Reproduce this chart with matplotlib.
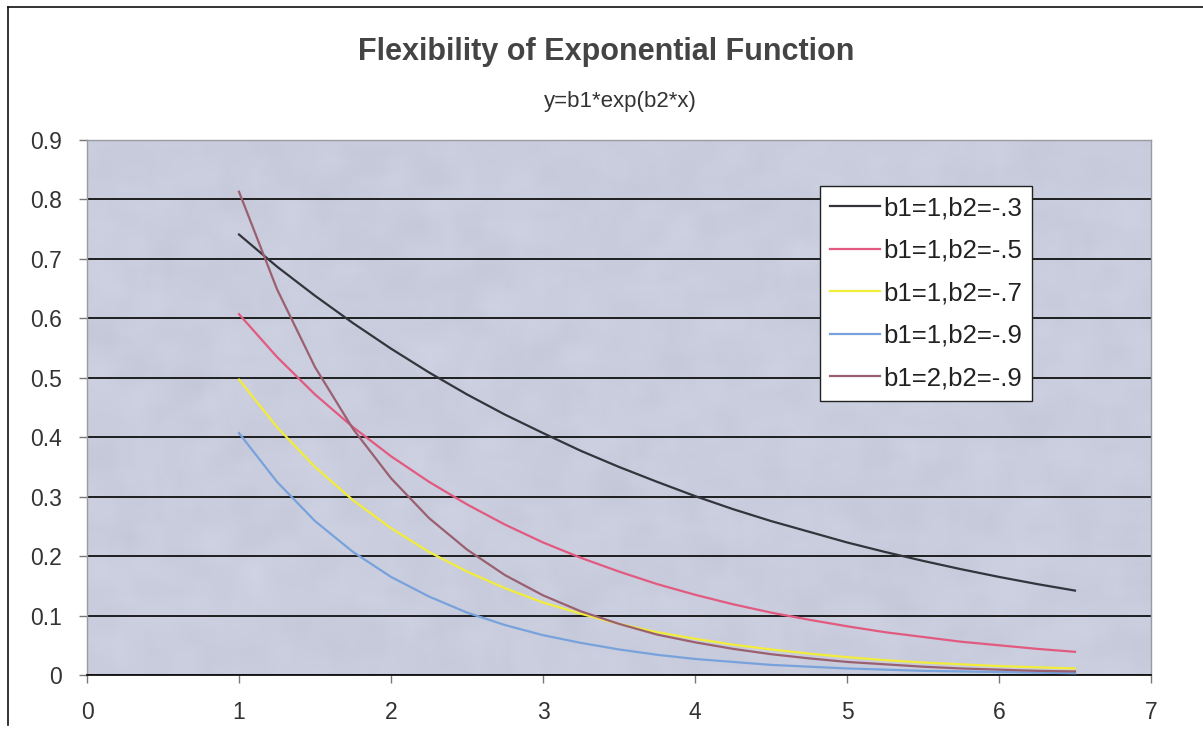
import matplotlib
matplotlib.use("Agg")
import matplotlib.pyplot as plt
from matplotlib.lines import Line2D
import numpy as np

plt.rcParams['font.family'] = ['Liberation Sans', 'DejaVu Sans']

# sample positions along x
x = [1.0, 1.25, 1.5, 1.75, 2.0, 2.25, 2.5, 2.75, 3.0, 3.25, 3.5, 3.75,
     4.0, 4.25, 4.5, 4.75, 5.0, 5.25, 5.5, 5.75, 6.0, 6.25, 6.5]

y_b1_1_b2_03 = [0.741, 0.687, 0.638, 0.592, 0.549, 0.509, 0.472, 0.438, 0.407, 0.377,
                0.350, 0.325, 0.301, 0.279, 0.259, 0.241, 0.223, 0.207, 0.192, 0.178,
                0.165, 0.153, 0.142]
y_b1_1_b2_05 = [0.607, 0.535, 0.472, 0.417, 0.368, 0.325, 0.287, 0.253, 0.223, 0.197,
                0.174, 0.153, 0.135, 0.119, 0.105, 0.093, 0.082, 0.072, 0.064, 0.056,
                0.050, 0.044, 0.039]
y_b1_1_b2_07 = [0.497, 0.417, 0.350, 0.294, 0.247, 0.207, 0.174, 0.146, 0.122, 0.103,
                0.086, 0.072, 0.061, 0.051, 0.043, 0.036, 0.030, 0.025, 0.021, 0.018,
                0.015, 0.013, 0.011]
y_b1_1_b2_09 = [0.407, 0.325, 0.259, 0.207, 0.165, 0.132, 0.105, 0.084, 0.067, 0.054,
                0.043, 0.034, 0.027, 0.022, 0.017, 0.014, 0.011, 0.009, 0.007, 0.006,
                0.005, 0.004, 0.003]
y_b1_2_b2_09 = [0.813, 0.649, 0.518, 0.414, 0.331, 0.264, 0.211, 0.168, 0.134, 0.107,
                0.086, 0.068, 0.055, 0.044, 0.035, 0.028, 0.022, 0.018, 0.014, 0.011,
                0.009, 0.007, 0.006]

series_labels = ["b1=1,b2=-.3", "b1=1,b2=-.5", "b1=1,b2=-.7", "b1=1,b2=-.9", "b1=2,b2=-.9"]
series_values = [y_b1_1_b2_03, y_b1_1_b2_05, y_b1_1_b2_07, y_b1_1_b2_09, y_b1_2_b2_09]
series_colors = ["#33343c", "#e25a80", "#f2ec3a", "#78a2dc", "#9a6070"]

x_ticks = [0, 1, 2, 3, 4, 5, 6, 7]
y_ticks = [0, 0.1, 0.2, 0.3, 0.4, 0.5, 0.6, 0.7, 0.8, 0.9]
y_tick_labels = ["0", "0.1", "0.2", "0.3", "0.4", "0.5", "0.6", "0.7", "0.8", "0.9"]

W, H = 1203, 754
AX_L, AX_R, AX_T, AX_B = 87, 1151, 140, 675
fig = plt.figure(figsize=(W / 100, H / 100), dpi=100)
fig.patch.set_facecolor("white")

ax = fig.add_axes([AX_L / W, 1 - AX_B / H, (AX_R - AX_L) / W, (AX_B - AX_T) / H])
ax.set_facecolor("#c9cddc")

# faint mottled paper texture on the plot area
rng = np.random.default_rng(7)
tex = rng.normal(0, 1, (60, 110))
kernel = np.ones(3) / 3
tex = np.apply_along_axis(lambda r: np.convolve(r, kernel, mode="same"), 1, tex)
tex = np.apply_along_axis(lambda c: np.convolve(c, kernel, mode="same"), 0, tex)
base = np.array([201, 205, 221]) / 255.0
img = np.clip(base[None, None, :] + tex[:, :, None] * 0.018, 0, 1)
ax.imshow(img, extent=(0, 7, 0, 0.9), aspect="auto", interpolation="bilinear", zorder=0)

for yv, lab, col in zip(series_values, series_labels, series_colors):
    ax.plot(x, yv, color=col, lw=1.6, label=lab, zorder=3)

ax.set_xlim(0, 7)
ax.set_ylim(0, 0.9)
ax.set_xticks(x_ticks)
ax.set_yticks(y_ticks)
ax.set_yticklabels(y_tick_labels)
ax.yaxis.grid(True, color="#111111", lw=1.3, zorder=1)

for side in ("top", "right", "left"):
    ax.spines[side].set_color("#9a9aa2")
    ax.spines[side].set_linewidth(1.0)
ax.spines["bottom"].set_color("#111111")
ax.spines["bottom"].set_linewidth(1.3)

ax.tick_params(axis="both", direction="out", length=6, width=1, color="#777777",
               labelsize=16.5, labelcolor="#333333")
ax.tick_params(axis="x", pad=13)
ax.tick_params(axis="y", pad=12)

handles = [Line2D([0], [0], color=c, lw=1.6) for c in series_colors]
leg = ax.legend(handles, series_labels, loc="upper left",
                bbox_to_anchor=((820 - AX_L) / (AX_R - AX_L), (AX_B - 186) / (AX_B - AX_T)),
                fontsize=18.5, frameon=True, fancybox=False, framealpha=1,
                edgecolor="#222222", facecolor="white", handlelength=1.95,
                handletextpad=0.1, labelspacing=0.72, borderpad=0.4,
                borderaxespad=0)
leg.get_frame().set_linewidth(1.0)
leg.set_zorder(5)
for t in leg.get_texts():
    t.set_color("#222222")

fig.text(606 / W, 1 - 52 / H, "Flexibility of Exponential Function",
         ha="center", va="center", fontsize=22, fontweight="bold", color="#444444")
fig.text(620 / W, 1 - 102 / H, "y=b1*exp(b2*x)",
         ha="center", va="center", fontsize=16, color="#333333")

# outer frame of the chart
fig.add_artist(Line2D([8 / W, 1.0], [1 - 7 / H, 1 - 7 / H], color="#111111", lw=1.2))
fig.add_artist(Line2D([8 / W, 8 / W], [1 - 7 / H, 1 - 725 / H], color="#111111", lw=1.2))

fig.savefig("out.png", dpi=100)
